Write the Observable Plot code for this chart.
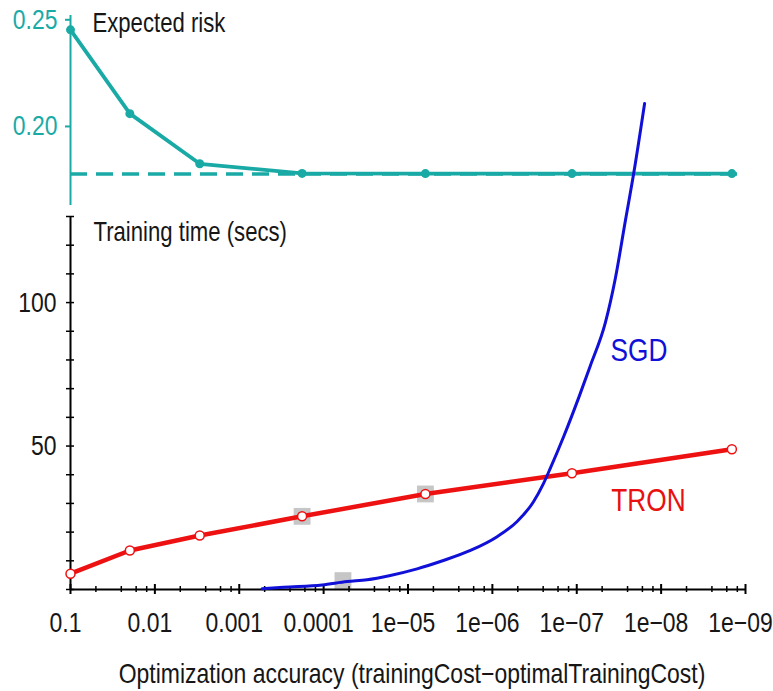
<!DOCTYPE html>
<html><head><meta charset="utf-8">
<script src="https://cdn.jsdelivr.net/npm/d3@7"></script>
<script src="https://cdn.jsdelivr.net/npm/@observablehq/plot@0.6"></script>
<style>
body{margin:0;background:#fff;}
#wrap{position:relative;width:773px;height:691px;overflow:hidden;background:#fff;}
#top,#bottom{position:absolute;left:0;}
#top{top:0px;}
#bottom{top:205px;}
</style></head><body>
<div id="wrap"><div id="top"></div><div id="bottom"></div></div>
<script>
// ---- data ----
const accuracy = [0.1, 0.0198, 0.00294, 0.000180, 6.22e-6, 1.14e-7, 1.45e-9];
const expectedRisk = [0.2453, 0.2060, 0.1825, 0.1780, 0.1779, 0.1779, 0.1779];
const riskAsymptote = 0.1777;
const tronTime = [5.5, 13.6, 18.8, 25.5, 33.3, 40.5, 48.9];

const sgdAccuracy = [5.36e-4, 2.99e-4, 1.04e-4, 5.27e-5, 3.05e-5, 1.62e-5, 7.80e-6, 3.81e-6, 1.82e-6, 8.79e-7,
  5.09e-7, 3.27e-7, 2.49e-7, 2.06e-7, 1.42e-7, 9.33e-8, 6.90e-8, 4.58e-8, 3.49e-8, 2.65e-8, 2.12e-8, 1.57e-8];
const sgdTime = [0.25, 0.8, 1.6, 2.8, 3.4, 4.9, 7.2, 10.1, 13.6, 18.4,
  23.7, 30.5, 36.8, 42.2, 53.5, 67.4, 78.0, 93.0, 108.4, 128.6, 144.8, 169.4];

const markerAccuracy = [0.000180, 6.22e-6, 5.9e-5];
const markerTime = [25.5, 33.3, 3.1];

const xTicks = [1e-1, 1e-2, 1e-3, 1e-4, 1e-5, 1e-6, 1e-7, 1e-8, 1e-9];
const xTickLabels = ["0.1", "0.01", "0.001", "0.0001", "1e\u221205", "1e\u221206", "1e\u221207", "1e\u221208", "1e\u221209"];
const xMinorDivisors = [2, 4, 6, 8];
const topYTicks = [0.20, 0.25];
const bottomYTicks = [50, 100];
const bottomYMinor = [0, 10, 20, 30, 40, 50, 60, 70, 80, 90, 100, 110, 120, 130];

const seriesLabels = [
  {name: "SGD", accuracy: 3.98e-8, time: 83.3, color: "#1010d8", size: 32},
  {name: "TRON", accuracy: 3.89e-8, time: 31, color: "#e81010", size: 32}
];

// ---- build tables ----
const riskData = accuracy.map((a, i) => ({a, v: expectedRisk[i]}));
const tronData = accuracy.map((a, i) => ({a, t: tronTime[i]}));
const sgdData = sgdAccuracy.map((a, i) => ({a, t: sgdTime[i]}));
const markers = markerAccuracy.map((a, i) => ({a, t: markerTime[i]}));
const xMinor = xTicks.slice(0, -1).flatMap(d => xMinorDivisors.map(k => d / k));

const FONT = "'Liberation Sans', Arial, sans-serif";
const NARROW = 0.82; // condensed look of the original typeface
const TEAL = "#1aaaa6";
const RED = "#ee1111";
const BLUE = "#1010d8";
const INK = "#161616";
const blank = () => "";

const topPlot = Plot.plot({
  width: 773, height: 205,
  marginLeft: 70, marginRight: 28, marginTop: 15, marginBottom: 0,
  style: {fontFamily: FONT, overflow: "visible", background: "transparent"},
  x: {type: "log", domain: [1e-1, 1e-9], axis: null},
  y: {domain: [0.16295, 0.25201]},
  marks: [
    Plot.ruleX([0.1], {stroke: TEAL, strokeWidth: 2}),
    Plot.axisY(topYTicks, {tickSize: 5, tickPadding: 8, strokeWidth: 2, stroke: TEAL, fill: TEAL, color: TEAL,
      tickFormat: d3.format(".2f"), fontSize: 28, label: null}),
    Plot.ruleY([riskAsymptote], {stroke: TEAL, strokeWidth: 3.5, strokeDasharray: "17,9"}),
    Plot.line(riskData, {x: "a", y: "v", stroke: TEAL, strokeWidth: 3.8}),
    Plot.dot(riskData, {x: "a", y: "v", fill: TEAL, r: 4.5}),
    Plot.text(["Expected risk"], {frameAnchor: "top-left", textAnchor: "start", lineAnchor: "middle",
      dx: 22, dy: 8, fontSize: 27, fill: INK})
  ]
});
document.getElementById("top").appendChild(topPlot);

const bottomPlot = Plot.plot({
  width: 773, height: 486,
  marginLeft: 70, marginRight: 28, marginTop: 11, marginBottom: 102,
  style: {fontFamily: FONT, overflow: "visible", background: "transparent", color: INK},
  x: {type: "log", domain: [1e-1, 1e-9]},
  y: {domain: [0, 130]},
  marks: [
    Plot.dot(markers, {x: "a", y: "t", symbol: "square", r: 9.5, fill: "#c6c6c6"}),
    Plot.ruleY([0], {stroke: "#000", strokeWidth: 2}),
    Plot.ruleX([0.1], {stroke: "#000", strokeWidth: 2}),
    // x ticks crossing the axis
    Plot.axisX(xTicks, {tickSize: 5, strokeWidth: 2, stroke: "#000", tickFormat: blank, label: null}),
    Plot.axisX(xTicks, {tickSize: 5, dy: -5, strokeWidth: 2, stroke: "#000", tickFormat: blank, label: null}),
    Plot.axisX(xMinor, {tickSize: 3, strokeWidth: 1.5, stroke: "#000", tickFormat: blank, label: null}),
    Plot.axisX(xMinor, {tickSize: 3, dy: -3, strokeWidth: 1.5, stroke: "#000", tickFormat: blank, label: null}),
    Plot.axisX(xTicks, {tickSize: 0, tickPadding: 23, dx: -5, fontSize: 28, fill: INK,
      tickFormat: d => xTickLabels[xTicks.indexOf(d)], label: null}),
    // y ticks crossing the axis
    Plot.axisY(bottomYMinor, {tickSize: 4, strokeWidth: 1.5, stroke: "#000", tickFormat: blank, label: null}),
    Plot.axisY(bottomYMinor, {tickSize: 4, dx: 4, strokeWidth: 1.5, stroke: "#000", tickFormat: blank, label: null}),
    Plot.axisY(bottomYTicks, {tickSize: 0, tickPadding: 14, fontSize: 28, fill: INK, tickFormat: d => String(d), label: null}),
    // series
    Plot.line(tronData, {x: "a", y: "t", stroke: RED, strokeWidth: 4.5}),
    Plot.line(sgdData, {x: "a", y: "t", stroke: BLUE, strokeWidth: 3, curve: "monotone-x"}),
    Plot.dot(tronData, {x: "a", y: "t", fill: "#fff", stroke: RED, strokeWidth: 1.5, r: 4.5}),
    // labels
    Plot.text(seriesLabels, {x: "accuracy", y: "time", text: "name", fill: "color", fontSize: d => d.size,
      textAnchor: "start", lineAnchor: "middle"}),
    Plot.text(["Training time (secs)"], {frameAnchor: "top-left", textAnchor: "start", lineAnchor: "middle",
      dx: 23, dy: 16, fontSize: 27, fill: INK}),
    Plot.text(["Optimization accuracy (trainingCost\u2212optimalTrainingCost)"], {frameAnchor: "bottom",
      lineAnchor: "middle", dx: 4, dy: 85, fontSize: 28, fill: INK})
  ]
});
document.getElementById("bottom").appendChild(bottomPlot);

// condense every text horizontally around its own anchor point (keeps Plot's positioning intact)
for (const svg of [topPlot, bottomPlot]) {
  svg.querySelectorAll("text").forEach(t => {
    let b;
    try { b = t.getBBox(); } catch (e) { return; }
    if (!b || !isFinite(b.x) || !isFinite(b.width)) return;
    const anchor = getComputedStyle(t).textAnchor;
    const ax = anchor === "middle" ? b.x + b.width / 2 : anchor === "end" ? b.x + b.width : b.x;
    const tr = t.getAttribute("transform") || "";
    t.setAttribute("transform", `${tr} translate(${ax},0) scale(${NARROW},1) translate(${-ax},0)`.trim());
  });
}
</script>
</body></html>
